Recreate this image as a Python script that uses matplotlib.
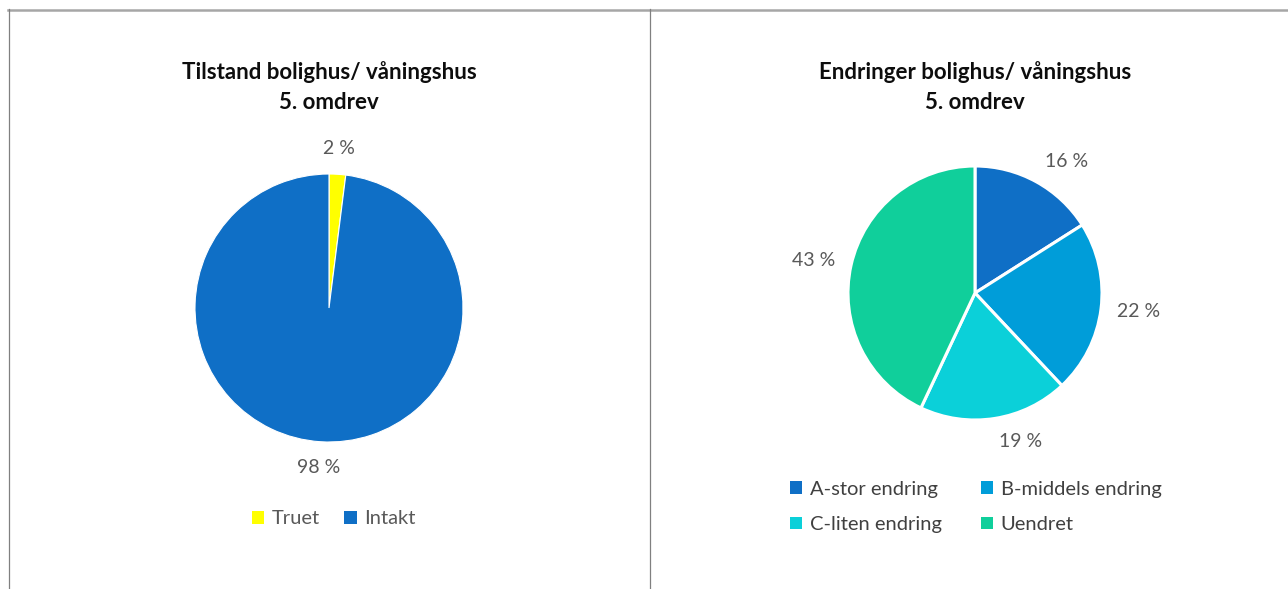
import matplotlib
matplotlib.use("Agg")
import numpy as np
import matplotlib.pyplot as plt
from matplotlib.patches import Patch
from matplotlib.lines import Line2D

plt.rcParams['font.family'] = ['Lato', 'DejaVu Sans']

# Data
left_title = "Tilstand bolighus/ våningshus\n5. omdrev"
left_labels = ["Truet", "Intakt"]
left_values = [2, 98]
left_colors = ["#FFFF00", "#0F6FC6"]

right_title = "Endringer bolighus/ våningshus\n5. omdrev"
right_labels = ["A-stor endring", "B-middels endring", "C-liten endring", "Uendret"]
right_values = [16, 22, 19, 43]
right_colors = ["#0F6FC6", "#009DD9", "#0BD0D9", "#10CF9B"]

W, H = 1288, 589
fig = plt.figure(figsize=(W / 100, H / 100), dpi=100)
fig.patch.set_facecolor("white")

def px_axes(cx, cy, r):
    return fig.add_axes([(cx - r) / W, (H - cy - r) / H, 2 * r / W, 2 * r / H])

text_gray = "#595959"

# Left pie
axL = px_axes(329, 308, 134)
axL.pie(left_values, colors=left_colors, startangle=90, counterclock=False,
        autopct=lambda p: f"{p:.0f} %", pctdistance=1.19, radius=1,
        wedgeprops=dict(edgecolor="white", linewidth=0.8),
        textprops=dict(color=text_gray, fontsize=14))
axL.set_xlim(-1, 1); axL.set_ylim(-1, 1); axL.set_aspect("equal"); axL.axis("off")

# Right pie (labels placed outside, best-fit style)
axR = px_axes(975, 293, 127)
wedges, _, autotexts = axR.pie(right_values, colors=right_colors, startangle=90, counterclock=False,
        autopct=lambda p: f"{p:.0f} %", pctdistance=1.2, radius=1,
        wedgeprops=dict(edgecolor="white", linewidth=2.2),
        textprops=dict(color=text_gray, fontsize=14))
for w, t in zip(wedges, autotexts):
    ang = np.deg2rad((w.theta1 + w.theta2) / 2)
    ux, uy = np.cos(ang), np.sin(ang)
    t.set_position((ux * 1.12 + np.sign(ux) * 0.18, uy * 1.18))
axR.set_xlim(-1, 1); axR.set_ylim(-1, 1); axR.set_aspect("equal"); axR.axis("off")

# Titles
fig.text(329 / W, 1 - 87 / H, left_title, ha="center", va="center",
         fontsize=16, fontweight="bold", color="#0D0D0D", linespacing=1.5)
fig.text(975 / W, 1 - 87 / H, right_title, ha="center", va="center",
         fontsize=16, fontweight="bold", color="#0D0D0D", linespacing=1.5)

# Legends
hL = [Patch(facecolor=c, edgecolor="none") for c in left_colors]
fig.legend(hL, left_labels, loc="center", bbox_to_anchor=(334 / W, 1 - 519 / H),
           ncol=2, frameon=False, fontsize=14.5, labelcolor=text_gray,
           handlelength=0.6, handleheight=0.6, handletextpad=0.4, columnspacing=1.2)

# row-major order (A, B / C, Uendret) for a 2-column legend
order = [0, 2, 1, 3]
hR = [Patch(facecolor=right_colors[i], edgecolor="none") for i in order]
fig.legend(hR, [right_labels[i] for i in order], loc="center",
           bbox_to_anchor=(976 / W, 1 - 507 / H),
           ncol=2, frameon=False, fontsize=14.5, labelcolor="#404040",
           handlelength=0.6, handleheight=0.6, handletextpad=0.4, columnspacing=1.9,
           labelspacing=0.9)

# Border lines
def hline(y, x0, x1, color, lw):
    fig.add_artist(Line2D([x0 / W, x1 / W], [1 - y / H, 1 - y / H], color=color, lw=lw))

def vline(x, y0, y1, color, lw):
    fig.add_artist(Line2D([x / W, x / W], [1 - y0 / H, 1 - y1 / H], color=color, lw=lw))

hline(9.5, 8, W, "#A6A6A6", 1.8)
vline(8.5, 9, H, "#808080", 0.9)
vline(649.5, 9, H, "#808080", 0.9)

fig.savefig("out.png", dpi=100, facecolor="white")
